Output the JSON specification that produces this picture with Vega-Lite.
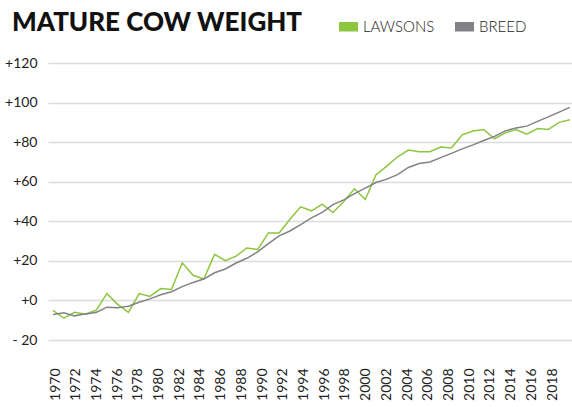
{
  "$schema": "https://vega.github.io/schema/vega-lite/v6.json",
  "width": 524,
  "height": 277,
  "autosize": {"type": "none"},
  "padding": {"left": 48, "top": 63, "right": 0, "bottom": 67},
  "background": "white",
  "title": {
    "text": "MATURE COW WEIGHT",
    "anchor": "start",
    "frame": "group",
    "font": "Lato",
    "fontSize": 26,
    "fontWeight": 900,
    "color": "#111111",
    "dx": -36,
    "offset": 0,
    "dy": 40,
    "baseline": "alphabetic"
  },
  "config": {
    "view": {"stroke": null},
    "axis": {"domain": false, "ticks": false, "gridColor": "#dcdcdc", "gridWidth": 1.5, "labelFont": "Lato", "labelFontSize": 14, "labelColor": "#222222"}
  },
  "data": {
    "values": [
      {"year": 1970, "series": "LAWSONS", "value": -5},
      {"year": 1971, "series": "LAWSONS", "value": -9},
      {"year": 1972, "series": "LAWSONS", "value": -6},
      {"year": 1973, "series": "LAWSONS", "value": -7},
      {"year": 1974, "series": "LAWSONS", "value": -5},
      {"year": 1975, "series": "LAWSONS", "value": 3.4},
      {"year": 1976, "series": "LAWSONS", "value": -2},
      {"year": 1977, "series": "LAWSONS", "value": -6},
      {"year": 1978, "series": "LAWSONS", "value": 3.5},
      {"year": 1979, "series": "LAWSONS", "value": 2},
      {"year": 1980, "series": "LAWSONS", "value": 6},
      {"year": 1981, "series": "LAWSONS", "value": 5.5},
      {"year": 1982, "series": "LAWSONS", "value": 19},
      {"year": 1983, "series": "LAWSONS", "value": 12.7},
      {"year": 1984, "series": "LAWSONS", "value": 10.8},
      {"year": 1985, "series": "LAWSONS", "value": 23.3},
      {"year": 1986, "series": "LAWSONS", "value": 20.1},
      {"year": 1987, "series": "LAWSONS", "value": 22.4},
      {"year": 1988, "series": "LAWSONS", "value": 26.5},
      {"year": 1989, "series": "LAWSONS", "value": 25.7},
      {"year": 1990, "series": "LAWSONS", "value": 34.1},
      {"year": 1991, "series": "LAWSONS", "value": 34.1},
      {"year": 1992, "series": "LAWSONS", "value": 41},
      {"year": 1993, "series": "LAWSONS", "value": 47.3},
      {"year": 1994, "series": "LAWSONS", "value": 45.3},
      {"year": 1995, "series": "LAWSONS", "value": 48.7},
      {"year": 1996, "series": "LAWSONS", "value": 44.4},
      {"year": 1997, "series": "LAWSONS", "value": 50},
      {"year": 1998, "series": "LAWSONS", "value": 56.4},
      {"year": 1999, "series": "LAWSONS", "value": 51},
      {"year": 2000, "series": "LAWSONS", "value": 63.5},
      {"year": 2001, "series": "LAWSONS", "value": 67.9},
      {"year": 2002, "series": "LAWSONS", "value": 72.6},
      {"year": 2003, "series": "LAWSONS", "value": 76},
      {"year": 2004, "series": "LAWSONS", "value": 75.2},
      {"year": 2005, "series": "LAWSONS", "value": 75.2},
      {"year": 2006, "series": "LAWSONS", "value": 77.5},
      {"year": 2007, "series": "LAWSONS", "value": 77.1},
      {"year": 2008, "series": "LAWSONS", "value": 83.7},
      {"year": 2009, "series": "LAWSONS", "value": 85.6},
      {"year": 2010, "series": "LAWSONS", "value": 86.4},
      {"year": 2011, "series": "LAWSONS", "value": 81.7},
      {"year": 2012, "series": "LAWSONS", "value": 84.7},
      {"year": 2013, "series": "LAWSONS", "value": 86.4},
      {"year": 2014, "series": "LAWSONS", "value": 84},
      {"year": 2015, "series": "LAWSONS", "value": 86.9},
      {"year": 2016, "series": "LAWSONS", "value": 86.4},
      {"year": 2017, "series": "LAWSONS", "value": 90},
      {"year": 2018, "series": "LAWSONS", "value": 91.3},
      {"year": 1970, "series": "BREED", "value": -7.1},
      {"year": 1971, "series": "BREED", "value": -6.2},
      {"year": 1972, "series": "BREED", "value": -7.8},
      {"year": 1973, "series": "BREED", "value": -6.8},
      {"year": 1974, "series": "BREED", "value": -6.1},
      {"year": 1975, "series": "BREED", "value": -3.4},
      {"year": 1976, "series": "BREED", "value": -3.7},
      {"year": 1977, "series": "BREED", "value": -2.9},
      {"year": 1978, "series": "BREED", "value": -0.9},
      {"year": 1979, "series": "BREED", "value": 0.8},
      {"year": 1980, "series": "BREED", "value": 2.9},
      {"year": 1981, "series": "BREED", "value": 4.4},
      {"year": 1982, "series": "BREED", "value": 7},
      {"year": 1983, "series": "BREED", "value": 9.1},
      {"year": 1984, "series": "BREED", "value": 10.8},
      {"year": 1985, "series": "BREED", "value": 14},
      {"year": 1986, "series": "BREED", "value": 15.9},
      {"year": 1987, "series": "BREED", "value": 18.9},
      {"year": 1988, "series": "BREED", "value": 21.3},
      {"year": 1989, "series": "BREED", "value": 24.5},
      {"year": 1990, "series": "BREED", "value": 28.7},
      {"year": 1991, "series": "BREED", "value": 32.6},
      {"year": 1992, "series": "BREED", "value": 35.1},
      {"year": 1993, "series": "BREED", "value": 38.3},
      {"year": 1994, "series": "BREED", "value": 41.7},
      {"year": 1995, "series": "BREED", "value": 44.5},
      {"year": 1996, "series": "BREED", "value": 48.4},
      {"year": 1997, "series": "BREED", "value": 50.8},
      {"year": 1998, "series": "BREED", "value": 54},
      {"year": 1999, "series": "BREED", "value": 56.8},
      {"year": 2000, "series": "BREED", "value": 59.6},
      {"year": 2001, "series": "BREED", "value": 61.3},
      {"year": 2002, "series": "BREED", "value": 63.6},
      {"year": 2003, "series": "BREED", "value": 67.2},
      {"year": 2004, "series": "BREED", "value": 69.2},
      {"year": 2005, "series": "BREED", "value": 70},
      {"year": 2006, "series": "BREED", "value": 72.2},
      {"year": 2007, "series": "BREED", "value": 74.3},
      {"year": 2008, "series": "BREED", "value": 76.6},
      {"year": 2009, "series": "BREED", "value": 78.6},
      {"year": 2010, "series": "BREED", "value": 80.8},
      {"year": 2011, "series": "BREED", "value": 82.9},
      {"year": 2012, "series": "BREED", "value": 85.7},
      {"year": 2013, "series": "BREED", "value": 87.2},
      {"year": 2014, "series": "BREED", "value": 88.1},
      {"year": 2015, "series": "BREED", "value": 90.5},
      {"year": 2016, "series": "BREED", "value": 92.8},
      {"year": 2017, "series": "BREED", "value": 95.2},
      {"year": 2018, "series": "BREED", "value": 97.6}
    ]
  },
  "encoding": {
    "y": {
      "field": "value",
      "type": "quantitative",
      "scale": {"domain": [-20, 120], "nice": false, "zero": false},
      "axis": {
        "title": null,
        "values": [-20, 0, 20, 40, 60, 80, 100, 120],
        "labelExpr": "datum.value >= 0 ? '+' + datum.value : '- ' + abs(datum.value)",
        "labelPadding": 11,
        "grid": true
      }
    }
  },
  "layer": [
    {
      "mark": {"type": "line", "strokeWidth": 1.5},
      "encoding": {
        "x": {
          "field": "year",
          "type": "quantitative",
          "scale": {"domain": [1969.53, 2018.2], "nice": false, "zero": false},
          "axis": null
        },
        "color": {
          "field": "series",
          "type": "nominal",
          "sort": ["LAWSONS", "BREED"],
          "scale": {"domain": ["LAWSONS", "BREED"], "range": ["#8CC63F", "#828286"]},
          "legend": {
            "title": null,
            "orient": "none",
            "direction": "horizontal",
            "legendX": 291,
            "legendY": -46,
            "symbolType": "M-1,-0.5H1V0.5H-1Z",
            "symbolSize": 361,
            "symbolStrokeWidth": 0,
            "labelFont": "Lato",
            "labelFontWeight": 300,
            "labelFontSize": 15,
            "labelColor": "#222222",
            "labelOffset": 5,
            "columnPadding": 20,
            "encode": {
              "symbols": {"update": {"fill": {"scale": "color", "field": "value"}, "fillOpacity": {"value": 1}}}
            }
          }
        }
      }
    },
    {
      "mark": {"type": "point", "opacity": 0},
      "encoding": {
        "x": {
          "field": "year",
          "type": "quantitative",
          "scale": {"domain": [1969.32, 2019.93], "nice": false, "zero": false},
          "axis": {
            "title": null,
            "values": [1970, 1972, 1974, 1976, 1978, 1980, 1982, 1984, 1986, 1988, 1990, 1992, 1994, 1996, 1998, 2000, 2002, 2004, 2006, 2008, 2010, 2012, 2014, 2016, 2018],
            "format": "d",
            "labelAngle": -90,
            "labelPadding": 28,
            "grid": false,
            "labelFlush": false,
            "labelOverlap": false
          }
        }
      }
    }
  ],
  "resolve": {"scale": {"x": "independent"}}
}
